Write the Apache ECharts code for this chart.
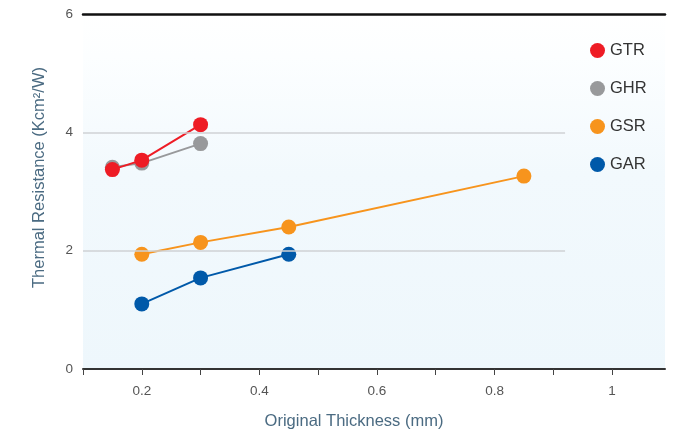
<!DOCTYPE html>
<html>
<head>
<meta charset="utf-8">
<script src="https://cdn.jsdelivr.net/npm/echarts@6/dist/echarts.min.js"></script>
<style>html,body{margin:0;padding:0;background:#fff}#c{width:681px;height:435px}</style>
</head>
<body>
<div id="c"></div>
<script>
var seriesNames = ['GTR', 'GHR', 'GSR', 'GAR'];
var gtr = [[0.15, 3.37], [0.2, 3.53], [0.3, 4.13]];
var ghr = [[0.15, 3.41], [0.2, 3.48], [0.3, 3.81]];
var gsr = [[0.2, 1.94], [0.3, 2.14], [0.45, 2.40], [0.85, 3.26]];
var gar = [[0.2, 1.10], [0.3, 1.54], [0.45, 1.94]];
var xTickValues = [0.1, 0.2, 0.3, 0.4, 0.5, 0.6, 0.7, 0.8, 0.9, 1.0];
var xLabelValues = [0.2, 0.4, 0.6, 0.8, 1.0];
var yGridValues = [2, 4];
var gridLineEnd = 0.92;

var colors = {GTR: '#ee1c25', GHR: '#98999b', GSR: '#f7941d', GAR: '#0059a9'};
var dataMap = {GTR: gtr, GHR: ghr, GSR: gsr, GAR: gar};
var font = '"Liberation Sans", Arial, sans-serif';

function mkSeries(name, extra) {
  var s = {
    name: name, type: 'line', data: dataMap[name],
    symbol: 'circle', symbolSize: 15,
    lineStyle: {color: colors[name], width: 2},
    itemStyle: {color: colors[name]},
    animation: false
  };
  if (extra) for (var k in extra) s[k] = extra[k];
  return s;
}

var chart = echarts.init(document.getElementById('c'));
chart.setOption({
  animation: false,
  textStyle: {fontFamily: font},
  grid: {
    left: 83, right: 16, top: 14, bottom: 66, show: true, borderWidth: 0,
    backgroundColor: {type: 'linear', x: 0, y: 0, x2: 0, y2: 1,
      colorStops: [{offset: 0, color: '#ffffff'}, {offset: 0.12, color: '#fcfeff'}, {offset: 0.45, color: '#f2f9fd'}, {offset: 1, color: '#eef7fc'}]}
  },
  legend: {
    orient: 'vertical', left: 585, top: 37, itemGap: 21,
    data: seriesNames, icon: 'circle', itemWidth: 15, itemHeight: 15,
    textStyle: {fontSize: 16.5, color: '#333', fontFamily: font}
  },
  xAxis: [{
    type: 'value', min: 0.1, max: 1.09, interval: 0.1,
    name: 'Original Thickness (mm)', nameLocation: 'middle', nameGap: 44,
    nameTextStyle: {fontSize: 16.5, color: '#4b6b82', fontFamily: font, padding: [0, 40, 0, 0]},
    axisLine: {show: true, lineStyle: {color: '#333', width: 2}},
    axisTick: {show: true, length: 6, lineStyle: {color: '#444', width: 1}, customValues: xTickValues},
    axisLabel: {fontSize: 13.5, color: '#555', margin: 15, customValues: xLabelValues,
      formatter: function (v) { return String(Math.round(v * 10) / 10); }},
    splitLine: {show: false}
  }, {
    type: 'value', position: 'top', min: 0.1, max: 1.09,
    axisLine: {show: true, onZero: false, lineStyle: {color: '#111', width: 2.5}},
    axisTick: {show: false}, axisLabel: {show: false}, splitLine: {show: false}
  }],
  yAxis: {
    type: 'value', min: 0, max: 6, interval: 2,
    name: 'Thermal Resistance (Kcm²/W)', nameLocation: 'middle', nameGap: 35,
    nameTextStyle: {fontSize: 16.5, color: '#4b6b82', fontFamily: font, padding: [0, 0, 0, 28]},
    axisLine: {show: false}, axisTick: {show: false},
    axisLabel: {fontSize: 13.5, color: '#555', margin: 10},
    splitLine: {show: false}
  },
  series: [
    mkSeries('GAR', {
      markLine: {
        silent: true, symbol: 'none', label: {show: false},
        lineStyle: {color: '#cfd2d4', width: 1.5, type: 'solid'},
        data: yGridValues.map(function (v) { return [{coord: [0.1, v]}, {coord: [gridLineEnd, v]}]; })
      },
      z: 3
    }),
    mkSeries('GSR', {z: 3}),
    mkSeries('GHR', {z: 3}),
    mkSeries('GTR', {z: 4})
  ]
});
</script>
</body>
</html>
